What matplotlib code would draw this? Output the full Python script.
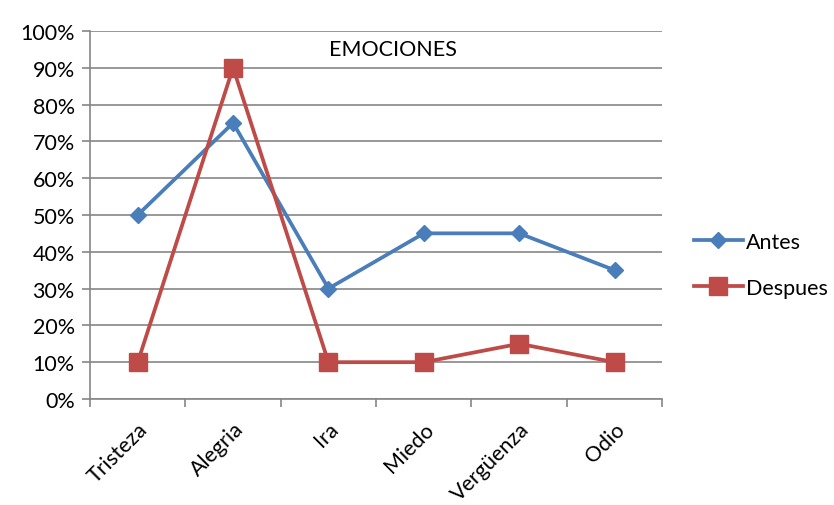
import matplotlib
matplotlib.use("Agg")
import matplotlib.pyplot as plt
from matplotlib.ticker import FixedLocator, PercentFormatter

categorias = ["Tristeza", "Alegria", "Ira", "Miedo", "Vergüenza", "Odio"]
antes = [50, 75, 30, 45, 45, 35]
despues = [10, 90, 10, 10, 15, 10]

plt.rcParams['font.family'] = ['Lato', 'DejaVu Sans']

fig = plt.figure(figsize=(8.34, 5.06), dpi=100)
ax = fig.add_axes([0.108, 0.2095, 0.686, 0.7275])

x = list(range(len(categorias)))
ax.plot(x, antes, color='#4A7EBB', lw=2.7, marker='D', ms=8, label='Antes')
ax.plot(x, despues, color='#BE4B48', lw=2.7, marker='s', ms=13, label='Despues')

ax.set_xlim(-0.5, len(categorias) - 0.5)
ax.set_ylim(0, 100)
ax.set_yticks(range(0, 101, 10))
ax.yaxis.set_major_formatter(PercentFormatter(decimals=0))
ax.set_xticks(x)
ax.set_xticklabels(categorias, rotation=45, ha='right', rotation_mode='anchor', fontsize=15.5)
ax.xaxis.set_minor_locator(FixedLocator([i - 0.5 for i in range(len(categorias) + 1)]))
ax.tick_params(axis='x', which='major', length=0, pad=14)
ax.tick_params(axis='x', which='minor', length=6, color='#868686', width=1.2)
ax.tick_params(axis='y', length=6, color='#868686', width=1.2, labelsize=15.5, pad=5)
ax.grid(axis='y', color='#868686', lw=1.2)
ax.set_axisbelow(True)
for s in ['top', 'right']:
    ax.spines[s].set_visible(False)
for s in ['left', 'bottom']:
    ax.spines[s].set_color('#868686')
    ax.spines[s].set_linewidth(1.2)

ax.text(0.53, 0.95, "EMOCIONES", transform=ax.transAxes, ha='center', va='center', fontsize=15.5)

ax.legend(loc='center left', bbox_to_anchor=(1.055, 0.365), frameon=False, fontsize=15.5,
          handlelength=2.3, labelspacing=1.2, handletextpad=0.15, borderaxespad=0, borderpad=0)

fig.savefig("out.png", dpi=100)
